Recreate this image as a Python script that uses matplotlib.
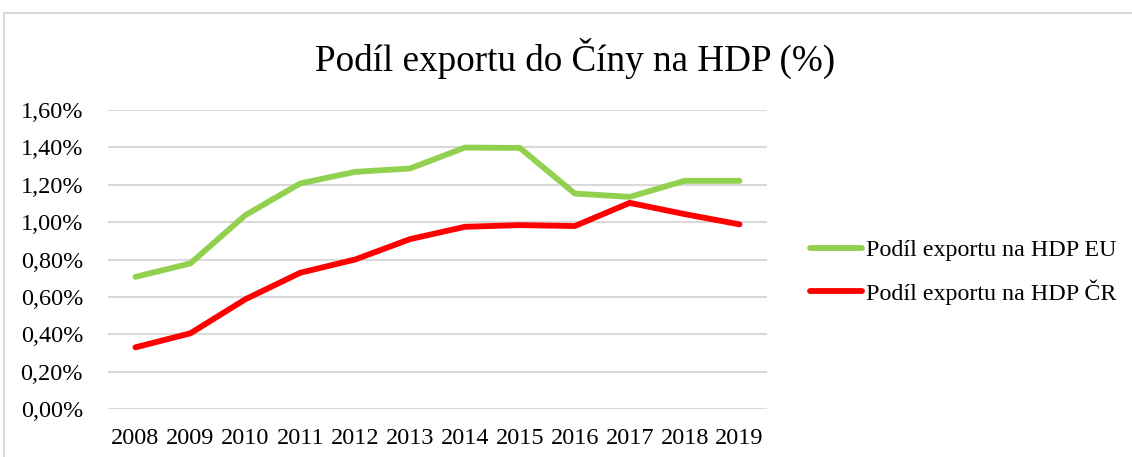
import matplotlib.pyplot as plt
from matplotlib.patches import Rectangle
from matplotlib.ticker import FuncFormatter

years = ['2008', '2009', '2010', '2011', '2012', '2013',
         '2014', '2015', '2016', '2017', '2018', '2019']
eu_share = [0.707, 0.779, 1.037, 1.207, 1.269, 1.287,
            1.399, 1.397, 1.153, 1.135, 1.221, 1.221]
cz_share = [0.330, 0.405, 0.587, 0.729, 0.800, 0.909,
            0.975, 0.984, 0.979, 1.103, 1.043, 0.988]
series_labels = ['Podíl exportu na HDP EU', 'Podíl exportu na HDP ČR']

plt.rcParams['font.family'] = ['Liberation Serif', 'DejaVu Serif']

fig = plt.figure(figsize=(11.32, 4.57), dpi=100)
ax = fig.add_axes([108 / 1132, 1 - 409 / 457, 659 / 1132, 299 / 457])

# light frame round the whole chart
fig.patches.append(Rectangle((4 / 1132, -0.1), 1.2, 1 - 13 / 457 + 0.1,
                             transform=fig.transFigure, fill=False,
                             edgecolor='#d9d9d9', linewidth=1.5))

x = range(len(years))
ax.plot(x, eu_share, color='#92d050', linewidth=4.2, solid_capstyle='round',
        label=series_labels[0])
ax.plot(x, cz_share, color='#ff0000', linewidth=4.2, solid_capstyle='round',
        label=series_labels[1])

ax.set_xlim(-0.5, len(years) - 0.5)
ax.set_ylim(0, 1.6)
ax.set_yticks([i * 0.2 for i in range(9)])
ax.yaxis.set_major_formatter(FuncFormatter(lambda v, p: f'{v:.2f}'.replace('.', ',') + '%'))
ax.set_xticks(list(x))
ax.set_xticklabels(years)
ax.tick_params(length=0, labelsize=17.5)
ax.tick_params(axis='x', pad=14)
ax.tick_params(axis='y', pad=18)

ax.grid(axis='y', color='#d9d9d9', linewidth=1.5)
ax.set_axisbelow(True)
for s in ax.spines.values():
    s.set_visible(False)

fig.text(575 / 1132, 1 - 58 / 457, 'Podíl exportu do Číny na HDP (%)',
         ha='center', va='center', fontsize=26.7)

fig.legend(loc='center left', bbox_to_anchor=(788 / 1132, 1 - 272 / 457),
           frameon=False, fontsize=17.3, handlelength=2.2, handletextpad=0.15,
           labelspacing=0.75)

fig.savefig('out.png', dpi=100, facecolor='white')
